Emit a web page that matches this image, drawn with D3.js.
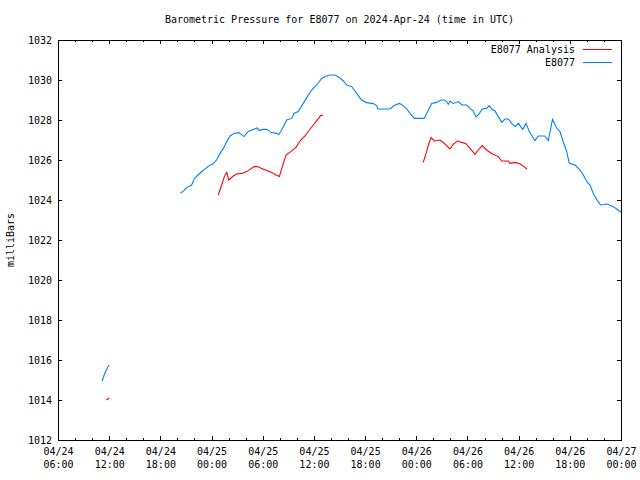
<!DOCTYPE html>
<html>
<head>
<meta charset="utf-8">
<script src="https://cdn.jsdelivr.net/npm/d3@7"></script>
<style>
  html, body { margin: 0; padding: 0; background: #fff; }
  svg { display: block; }
  text { font-family: "DejaVu Sans Mono", "Liberation Mono", monospace; font-size: 10px; fill: #000; }
</style>
</head>
<body>
<svg id="chart" width="640" height="480"></svg>
<script>
// ---------------- DATA ----------------
const chartTitle = "Barometric Pressure for E8077 on 2024-Apr-24 (time in UTC)";
const yLabel = "milliBars";
const seriesNames = ["E8077 Analysis", "E8077"];
const yTicks = [1012, 1014, 1016, 1018, 1020, 1022, 1024, 1026, 1028, 1030, 1032];
const xTickTimes = ["2024-04-24 06:00","2024-04-24 12:00","2024-04-24 18:00","2024-04-25 00:00",
  "2024-04-25 06:00","2024-04-25 12:00","2024-04-25 18:00","2024-04-26 00:00",
  "2024-04-26 06:00","2024-04-26 12:00","2024-04-26 18:00","2024-04-27 00:00"];

// E8077 observations (null value = gap)
const obsTimes = [
 "2024-04-24 11:10","2024-04-24 11:20","2024-04-24 11:30","2024-04-24 11:40","2024-04-24 11:50","2024-04-24 12:00",
 "2024-04-24 16:00",
 "2024-04-24 20:20","2024-04-24 20:45","2024-04-24 21:05","2024-04-24 21:40","2024-04-24 22:00","2024-04-24 22:25",
 "2024-04-24 22:55","2024-04-24 23:20","2024-04-24 23:45","2024-04-25 00:10","2024-04-25 00:35","2024-04-25 01:00",
 "2024-04-25 01:23","2024-04-25 01:47","2024-04-25 02:10","2024-04-25 02:38","2024-04-25 03:13","2024-04-25 03:48",
 "2024-04-25 04:18","2024-04-25 04:53","2024-04-25 05:22","2024-04-25 05:36","2024-04-25 06:04","2024-04-25 06:28",
 "2024-04-25 07:03","2024-04-25 07:38","2024-04-25 07:52","2024-04-25 08:13","2024-04-25 08:49","2024-04-25 09:24",
 "2024-04-25 09:40","2024-04-25 10:10","2024-04-25 10:45","2024-04-25 11:14","2024-04-25 11:44","2024-04-25 12:20",
 "2024-04-25 12:55","2024-04-25 13:18","2024-04-25 13:53","2024-04-25 14:28","2024-04-25 15:04","2024-04-25 15:27",
 "2024-04-25 15:51","2024-04-25 16:26","2024-04-25 16:49","2024-04-25 17:12","2024-04-25 17:36","2024-04-25 18:11",
 "2024-04-25 18:58","2024-04-25 19:22","2024-04-25 19:29","2024-04-25 20:55","2024-04-25 21:25","2024-04-25 22:01",
 "2024-04-25 22:29","2024-04-25 22:53","2024-04-25 23:16","2024-04-25 23:46","2024-04-26 00:56","2024-04-26 01:25",
 "2024-04-26 01:49","2024-04-26 02:24","2024-04-26 02:54","2024-04-26 03:17","2024-04-26 03:34","2024-04-26 03:45",
 "2024-04-26 03:57","2024-04-26 04:20","2024-04-26 04:56","2024-04-26 05:20","2024-04-26 05:55","2024-04-26 06:18",
 "2024-04-26 06:41","2024-04-26 06:58","2024-04-26 07:16","2024-04-26 07:44","2024-04-26 08:15","2024-04-26 08:34",
 "2024-04-26 08:50","2024-04-26 09:14","2024-04-26 09:37","2024-04-26 10:01","2024-04-26 10:24","2024-04-26 10:47",
 "2024-04-26 11:11","2024-04-26 11:35","2024-04-26 11:58","2024-04-26 12:29","2024-04-26 12:52","2024-04-26 13:15",
 "2024-04-26 13:55","2024-04-26 14:18","2024-04-26 15:05","2024-04-26 15:29","2024-04-26 15:58","2024-04-26 16:28",
 "2024-04-26 16:51","2024-04-26 17:14","2024-04-26 17:38","2024-04-26 17:56","2024-04-26 18:37","2024-04-26 19:12",
 "2024-04-26 19:35","2024-04-26 20:01","2024-04-26 20:22","2024-04-26 20:45","2024-04-26 21:09","2024-04-26 21:36",
 "2024-04-26 22:19","2024-04-26 23:04","2024-04-26 23:48","2024-04-27 00:00"
];
const obsValues = [
 1014.95,1015.15,1015.35,1015.5,1015.65,1015.75,
 null,
 1024.33,1024.47,1024.62,1024.75,1025.08,1025.25,
 1025.45,1025.58,1025.73,1025.8,1026.0,1026.33,
 1026.58,1026.92,1027.2,1027.33,1027.37,1027.17,
 1027.43,1027.53,1027.6,1027.47,1027.53,1027.53,
 1027.37,1027.33,1027.27,1027.5,1028.0,1028.08,
 1028.33,1028.42,1028.83,1029.17,1029.5,1029.75,
 1030.08,1030.17,1030.25,1030.25,1030.1,1029.95,
 1029.75,1029.67,1029.45,1029.22,1029.0,1028.87,
 1028.82,1028.72,1028.55,1028.55,1028.72,1028.83,
 1028.72,1028.55,1028.33,1028.08,1028.08,1028.5,
 1028.83,1028.88,1029.0,1029.0,1028.92,1028.78,
 1028.95,1028.83,1028.92,1028.75,1028.75,1028.58,
 1028.45,1028.17,1028.25,1028.55,1028.58,1028.72,
 1028.55,1028.45,1028.17,1027.88,1028.05,1028.05,
 1027.83,1027.67,1027.83,1027.53,1027.83,1027.42,
 1026.97,1027.2,1027.2,1026.97,1028.03,1027.6,
 1027.42,1026.9,1026.42,1025.83,1025.75,1025.5,
 1025.25,1024.9,1024.75,1024.33,1024.03,1023.75,
 1023.8,1023.68,1023.45,1023.4
];

// E8077 Analysis (null value = gap)
const anaTimes = [
 "2024-04-24 11:40","2024-04-24 12:00",
 "2024-04-24 18:00",
 "2024-04-25 00:47","2024-04-25 01:11","2024-04-25 01:30","2024-04-25 01:47","2024-04-25 02:01","2024-04-25 02:33",
 "2024-04-25 02:57","2024-04-25 03:32","2024-04-25 04:07","2024-04-25 04:31","2024-04-25 04:59","2024-04-25 05:22",
 "2024-04-25 05:53","2024-04-25 06:28","2024-04-25 07:03","2024-04-25 07:33","2024-04-25 07:57","2024-04-25 08:25",
 "2024-04-25 08:44","2024-04-25 09:17","2024-04-25 09:54","2024-04-25 10:27","2024-04-25 10:57","2024-04-25 11:28",
 "2024-04-25 11:56","2024-04-25 12:20","2024-04-25 12:48","2024-04-25 13:02",
 "2024-04-25 18:00",
 "2024-04-26 00:49","2024-04-26 01:13","2024-04-26 01:25","2024-04-26 01:44","2024-04-26 02:07","2024-04-26 02:47",
 "2024-04-26 03:17","2024-04-26 03:57","2024-04-26 04:20","2024-04-26 04:49","2024-04-26 05:20","2024-04-26 05:47",
 "2024-04-26 06:18","2024-04-26 06:53","2024-04-26 07:16","2024-04-26 07:44","2024-04-26 08:15","2024-04-26 08:50",
 "2024-04-26 09:37","2024-04-26 10:01","2024-04-26 10:47","2024-04-26 10:59","2024-04-26 11:35","2024-04-26 12:10",
 "2024-04-26 12:38","2024-04-26 12:57"
];
const anaValues = [
 1014.0,1014.1,
 null,
 1024.25,1024.75,1025.17,1025.38,1025.0,1025.2,
 1025.3,1025.33,1025.42,1025.53,1025.67,1025.67,
 1025.58,1025.47,1025.38,1025.25,1025.17,1025.83,
 1026.25,1026.42,1026.63,1027.0,1027.2,1027.5,
 1027.75,1027.97,1028.23,1028.23,
 null,
 1025.88,1026.42,1026.75,1027.12,1026.95,1027.0,
 1026.83,1026.55,1026.78,1026.95,1026.88,1026.83,
 1026.58,1026.28,1026.5,1026.72,1026.5,1026.33,
 1026.17,1025.95,1025.95,1025.83,1025.88,1025.8,
 1025.67,1025.55
];

const seriesColors = ["#ff0000", "#0080ff"];

// ---------------- CHART ----------------
const parse = d3.utcParse("%Y-%m-%d %H:%M");
const W = 640, H = 480;
const m = { left: 58, right: 19, top: 40, bottom: 40 };
const svg = d3.select("#chart");

const x = d3.scaleUtc()
  .domain([parse(xTickTimes[0]), parse(xTickTimes[xTickTimes.length - 1])])
  .range([m.left, W - m.right]);
const y = d3.scaleLinear()
  .domain([yTicks[0], yTicks[yTicks.length - 1]])
  .range([H - m.bottom, m.top]);

const majorX = xTickTimes.map(parse);
const minorX = d3.utcHour.every(2).range(x.domain()[0], x.domain()[1]).filter(d => d.getUTCHours() % 6 !== 0);

function styleAxis(g) {
  g.select(".domain").remove();
  g.selectAll("line").attr("stroke", "#000").attr("shape-rendering", "crispEdges");
}

// bottom major with labels
const fmtDate = d3.utcFormat("%m/%d"), fmtTime = d3.utcFormat("%H:%M");
const gx = svg.append("g").attr("transform", `translate(0,${H - m.bottom})`)
  .call(d3.axisBottom(x).tickValues(majorX).tickSize(-4).tickPadding(12).tickFormat(""));
styleAxis(gx);
gx.selectAll(".tick").each(function(d) {
  const t = d3.select(this).select("text");
  t.attr("y", 15).attr("dy", null);
  t.append("tspan").attr("x", 0).attr("dy", 0).text(fmtDate(d));
  t.append("tspan").attr("x", 0).attr("dy", 13).text(fmtTime(d));
});
const gxm = svg.append("g").attr("transform", `translate(0,${H - m.bottom})`)
  .call(d3.axisBottom(x).tickValues(minorX).tickSize(-2).tickFormat(""));
styleAxis(gxm);
// top mirror
const gt = svg.append("g").attr("transform", `translate(0,${m.top})`)
  .call(d3.axisTop(x).tickValues(majorX).tickSize(-4).tickFormat(""));
styleAxis(gt);
const gtm = svg.append("g").attr("transform", `translate(0,${m.top})`)
  .call(d3.axisTop(x).tickValues(minorX).tickSize(-2).tickFormat(""));
styleAxis(gtm);

// left axis
const gy = svg.append("g").attr("transform", `translate(${m.left},0)`)
  .call(d3.axisLeft(y).tickValues(yTicks).tickSize(-4).tickPadding(6).tickFormat(d3.format("d")));
styleAxis(gy);
gy.selectAll("text").attr("text-anchor", "end").attr("x", -6);
// right mirror
const gr = svg.append("g").attr("transform", `translate(${W - m.right},0)`)
  .call(d3.axisRight(y).tickValues(yTicks).tickSize(-4).tickFormat(""));
styleAxis(gr);

// frame
svg.append("rect")
  .attr("x", m.left + 0.5).attr("y", m.top + 0.5)
  .attr("width", W - m.left - m.right).attr("height", H - m.top - m.bottom)
  .attr("fill", "none").attr("stroke", "#000").attr("stroke-width", 1);

// title & y label
svg.append("text").attr("x", (m.left + W - m.right) / 2).attr("y", 23)
  .attr("text-anchor", "middle").text(chartTitle);
svg.append("text").attr("transform", `translate(14,${(m.top + H - m.bottom) / 2}) rotate(-90)`)
  .attr("text-anchor", "middle").text(yLabel);

// lines
const line = d3.line().defined(d => d.v != null).x(d => x(d.t)).y(d => y(d.v));
const anaData = anaTimes.map((t, i) => ({ t: parse(t), v: anaValues[i] }));
const obsData = obsTimes.map((t, i) => ({ t: parse(t), v: obsValues[i] }));
svg.append("path").datum(anaData).attr("d", line)
  .attr("fill", "none").attr("stroke", seriesColors[0]).attr("stroke-width", 1.1);
svg.append("path").datum(obsData).attr("d", line)
  .attr("fill", "none").attr("stroke", seriesColors[1]).attr("stroke-width", 1.1);

// legend
const legend = svg.append("g");
seriesNames.forEach((name, i) => {
  const ly = 49 + i * 13;
  legend.append("text").attr("x", 575).attr("y", ly).attr("dy", "0.35em")
    .attr("text-anchor", "end").text(name);
  legend.append("line").attr("x1", 583).attr("x2", 612).attr("y1", ly + 0.5).attr("y2", ly + 0.5)
    .attr("stroke", seriesColors[i]).attr("stroke-width", 1);
});
</script>
</body>
</html>
